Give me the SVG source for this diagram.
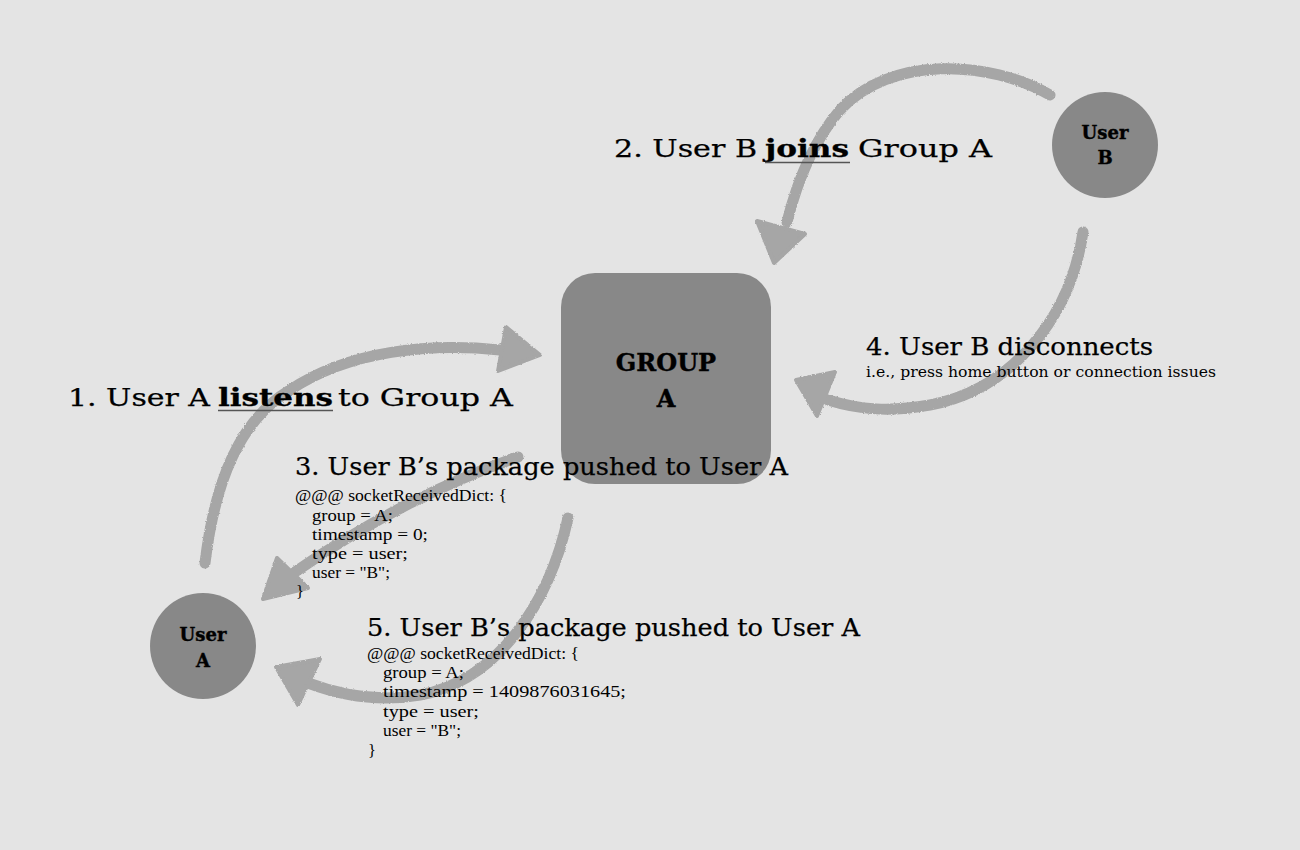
<svg xmlns="http://www.w3.org/2000/svg" width="1300" height="850" viewBox="0 0 1300 850">
<defs>
<filter id="rough" x="-10%" y="-10%" width="120%" height="120%">
<feTurbulence type="fractalNoise" baseFrequency="0.9" numOctaves="2" seed="3" result="n"/>
<feDisplacementMap in="SourceGraphic" in2="n" scale="2.5" xChannelSelector="R" yChannelSelector="G"/>
</filter>
<style>
.bg{fill:#e4e4e4}
.shaft{fill:none;stroke:#a6a6a6;stroke-width:11;stroke-linecap:round}
.head{fill:#a6a6a6;stroke:#a6a6a6;stroke-width:4;stroke-linejoin:round}
.node{fill:#888888}
.lbl{font-family:"DejaVu Serif","Liberation Serif",serif;font-weight:bold;fill:#000;text-anchor:middle;stroke:#000;stroke-width:0.4}
.t{font-family:"DejaVu Serif","Liberation Serif",serif;font-size:25px;fill:#000;stroke:#000;stroke-width:0.25}
.tb{font-family:"DejaVu Serif","Liberation Serif",serif;font-size:25px;font-weight:bold;fill:#000;stroke:#000;stroke-width:0.3}
.ts{font-family:"DejaVu Serif","Liberation Serif",serif;font-size:15px;fill:#000}
.code{font-family:"Liberation Serif",serif;font-size:16.5px;fill:#000}
.ul{stroke:#555;stroke-width:1.3}
</style>
</defs>
<rect class="bg" x="0" y="0" width="1300" height="850"/>
<g id="connectors" filter="url(#rough)">
<path class="shaft" d="M1050,95 C990,60 890,55 840,110 C810,145 795,190 787,222"/>
<polygon class="head" points="757,221 805,234 774,263"/>
<path class="shaft" d="M205,563 C215,480 240,420 290,390 C350,350 430,343 500,350"/>
<polygon class="head" points="506,327 540,355 498,371"/>
<path class="shaft" d="M518,457 C450,480 370,520 295,572"/>
<polygon class="head" points="277,558 308,588 263,599"/>
<path class="shaft" d="M568,518 C550,600 500,680 420,695 C380,702 340,695 308,683"/>
<polygon class="head" points="320,659 298,705 276,667"/>
<path class="shaft" d="M1083,232 C1070,320 1010,390 930,405 C890,412 860,410 828,400"/>
<polygon class="head" points="835,372 817,416 796,380"/>
</g>
<g id="groupA">
<rect class="node" x="561" y="273" width="210" height="211" rx="34"/>
<text class="lbl" x="666" y="371" font-size="24">GROUP</text>
<text class="lbl" x="666" y="407" font-size="24">A</text>
</g>
<g id="userB">
<circle class="node" cx="1105" cy="145" r="53"/>
<text class="lbl" x="1105" y="139" font-size="18">User</text>
<text class="lbl" x="1105" y="164" font-size="18">B</text>
</g>
<g id="userA">
<circle class="node" cx="203" cy="646" r="53"/>
<text class="lbl" x="203" y="641" font-size="18">User</text>
<text class="lbl" x="203" y="667" font-size="18">A</text>
</g>
<g id="label2">
<text class="t" x="614" y="157" textLength="143" lengthAdjust="spacingAndGlyphs">2. User B</text>
<text class="tb" x="765" y="157" textLength="84" lengthAdjust="spacingAndGlyphs">joins</text>
<text class="t" x="858" y="157" textLength="134" lengthAdjust="spacingAndGlyphs">Group A</text>
<line class="ul" x1="765" y1="162.5" x2="850" y2="162.5"/>
</g>
<g id="label1">
<text class="t" x="68" y="406" textLength="142" lengthAdjust="spacingAndGlyphs">1. User A</text>
<text class="tb" x="218" y="406" textLength="115" lengthAdjust="spacingAndGlyphs">listens</text>
<text class="t" x="338" y="406" textLength="175" lengthAdjust="spacingAndGlyphs">to Group A</text>
<line class="ul" x1="218" y1="410.5" x2="333" y2="410.5"/>
</g>
<g id="label4">
<text class="t" x="866" y="355" textLength="287" lengthAdjust="spacingAndGlyphs">4. User B disconnects</text>
<text class="ts" x="866" y="377" textLength="350" lengthAdjust="spacingAndGlyphs">i.e., press home button or connection issues</text>
</g>
<g id="label3">
<text class="t" x="295" y="475" textLength="493" lengthAdjust="spacingAndGlyphs">3. User B’s package pushed to User A</text>
<text class="code" x="295" y="501" textLength="212" lengthAdjust="spacingAndGlyphs">@@@ socketReceivedDict: {</text>
<text class="code" x="312" y="521" textLength="81" lengthAdjust="spacingAndGlyphs">group = A;</text>
<text class="code" x="312" y="540" textLength="116" lengthAdjust="spacingAndGlyphs">timestamp = 0;</text>
<text class="code" x="312" y="559" textLength="96" lengthAdjust="spacingAndGlyphs">type = user;</text>
<text class="code" x="312" y="578" textLength="78" lengthAdjust="spacingAndGlyphs">user = "B";</text>
<text class="code" x="296" y="597">}</text>
</g>
<g id="label5">
<text class="t" x="367" y="636" textLength="493" lengthAdjust="spacingAndGlyphs">5. User B’s package pushed to User A</text>
<text class="code" x="367" y="659" textLength="212" lengthAdjust="spacingAndGlyphs">@@@ socketReceivedDict: {</text>
<text class="code" x="383" y="678" textLength="81" lengthAdjust="spacingAndGlyphs">group = A;</text>
<text class="code" x="383" y="697" textLength="243" lengthAdjust="spacingAndGlyphs">timestamp = 1409876031645;</text>
<text class="code" x="383" y="717" textLength="96" lengthAdjust="spacingAndGlyphs">type = user;</text>
<text class="code" x="383" y="736" textLength="78" lengthAdjust="spacingAndGlyphs">user = "B";</text>
<text class="code" x="368" y="756">}</text>
</g>
</svg>
